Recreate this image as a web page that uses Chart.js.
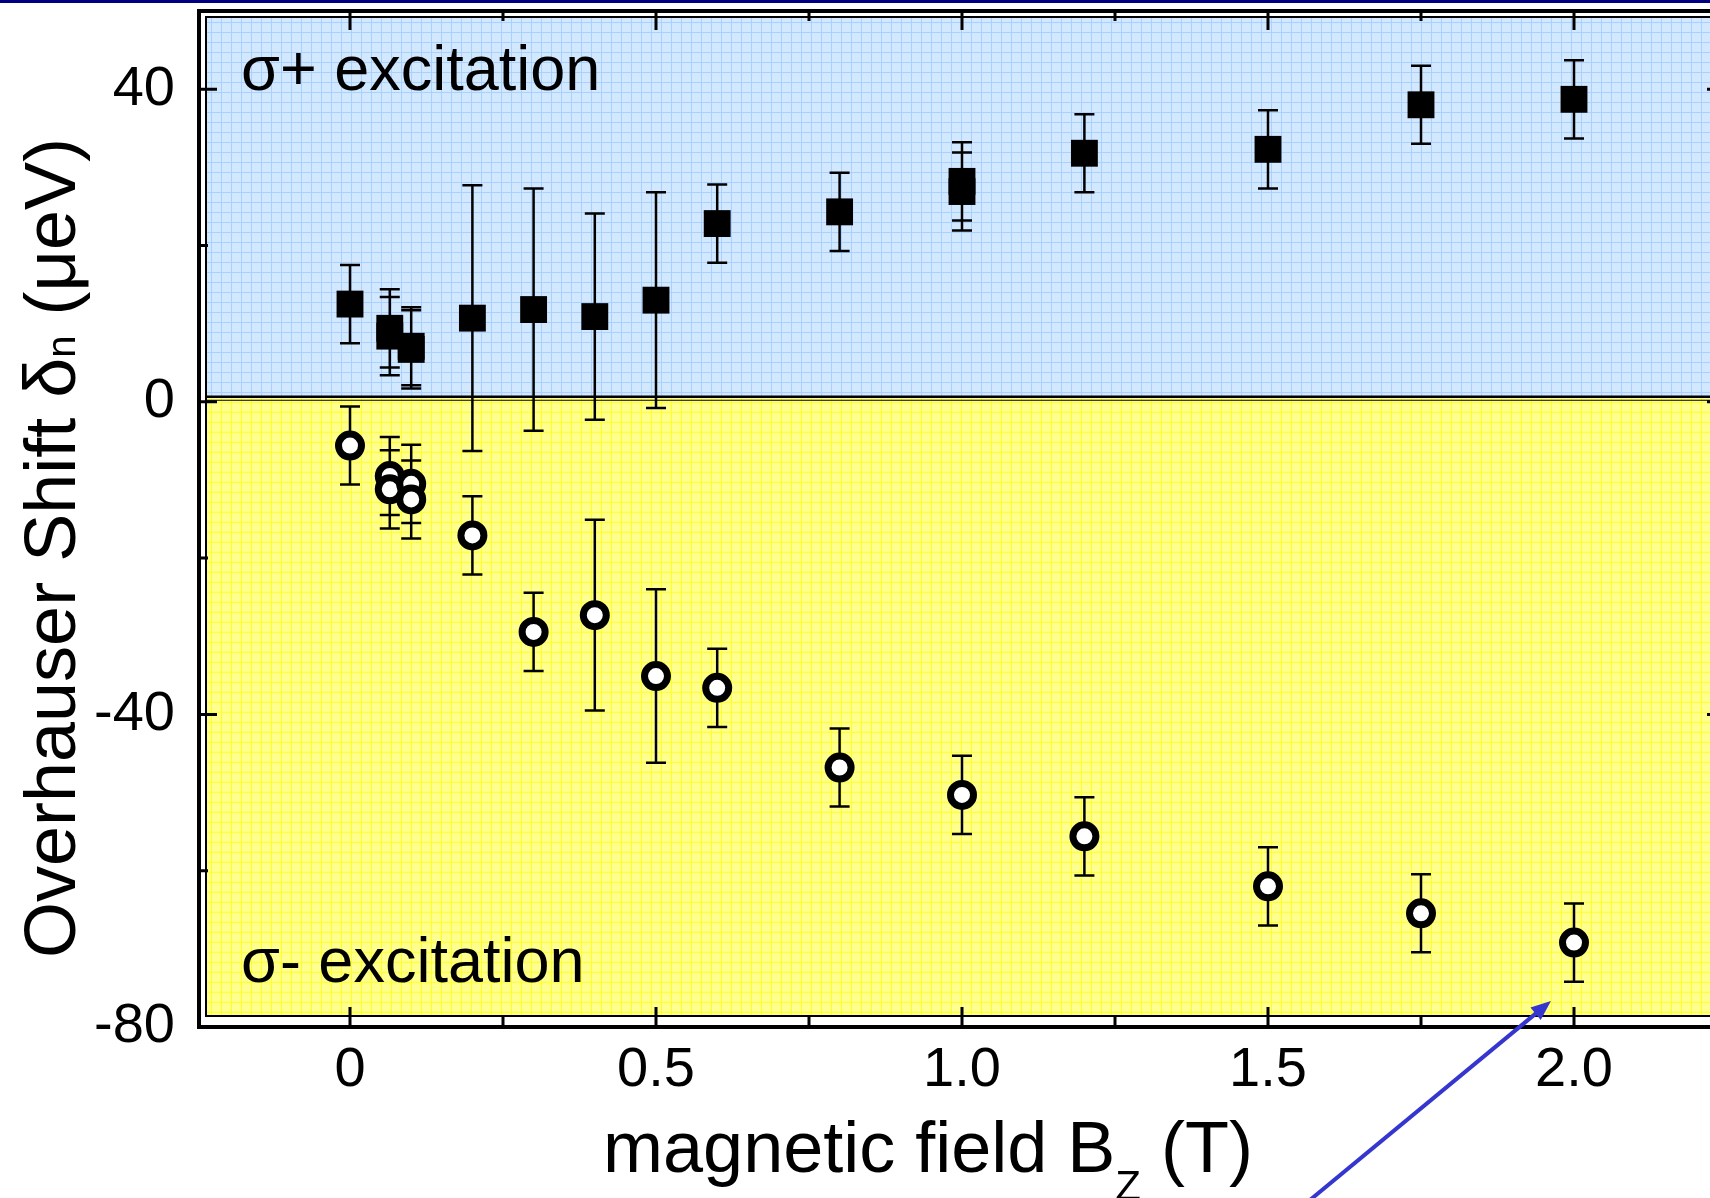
<!DOCTYPE html>
<html>
<head>
<meta charset="utf-8">
<script src="https://cdn.jsdelivr.net/npm/chart.js@4.4.0/dist/chart.umd.min.js"></script>
<style>
  html, body { margin: 0; padding: 0; overflow: hidden; background: #fff; width: 1710px; height: 1198px; }
  #wrap { position: absolute; left: 0; top: -8px; width: 1760px; height: 1206px; }
</style>
</head>
<body>
<div id="wrap"><canvas id="myChart" width="1760" height="1206"></canvas></div>
<script>
// sigma+ excitation (filled squares)
const fieldPlus = [0, 0.065, 0.065, 0.1, 0.1, 0.2, 0.3, 0.4, 0.5, 0.6, 0.8, 1.0, 1.0, 1.2, 1.5, 1.75, 2.0];
const shiftPlus = [12.5, 9.4, 8.4, 7.1, 6.7, 10.7, 11.8, 10.9, 13.0, 22.8, 24.3, 28.2, 26.9, 31.8, 32.3, 38.0, 38.7];
const errPlus = [5, 5, 5, 5, 5, 17, 15.5, 13.2, 13.8, 5, 5, 5, 5, 5, 5, 5, 5];

// sigma- excitation (open circles)
const fieldMinus = [0, 0.065, 0.065, 0.1, 0.1, 0.2, 0.3, 0.4, 0.5, 0.6, 0.8, 1.0, 1.2, 1.5, 1.75, 2.0];
const shiftMinus = [-5.6, -9.5, -11.2, -10.5, -12.5, -17.1, -29.45, -27.3, -35.1, -36.6, -46.8, -50.3, -55.6, -62.0, -65.45, -69.2];
const errMinus = [5, 5, 5, 5, 5, 5, 5, 12.2, 11.1, 5, 5, 5, 5, 5, 5, 5];

const xTicks = [0, 0.5, 1.0, 1.5, 2.0];
const xTickLabels = ["0", "0.5", "1.0", "1.5", "2.0"];
const xMinor = [0.25, 0.75, 1.25, 1.75];
const yTicks = [-80, -40, 0, 40];
const yTickLabels = ["-80", "-40", "0", "40"];
const yMinor = [-60, -20, 20];

const FONT = "'Liberation Sans', Arial, sans-serif";
const OFF = 8; // canvas sits 8px above the page top

function toPoints(xs, ys) {
  return xs.map((x, i) => ({ x: x, y: ys[i] }));
}

function gridFill(ctx, x0, y0, x1, y1, bg, line) {
  ctx.fillStyle = bg;
  ctx.fillRect(x0, y0, x1 - x0, y1 - y0);
  ctx.strokeStyle = line;
  ctx.lineWidth = 1;
  ctx.beginPath();
  for (let x = x0 + 5.5; x < x1; x += 10) {
    ctx.moveTo(x, y0);
    ctx.lineTo(x, y1);
  }
  for (let y = y0 + 5.5; y < y1; y += 10) {
    ctx.moveTo(x0, y);
    ctx.lineTo(x1, y);
  }
  ctx.stroke();
}

function drawParts(ctx, parts, cx, baseY) {
  let total = 0;
  parts.forEach(p => {
    ctx.font = p.s + "px " + FONT;
    p.w = ctx.measureText(p.t).width;
    total += p.w;
  });
  let x = cx - total / 2;
  parts.forEach(p => {
    ctx.font = p.s + "px " + FONT;
    ctx.fillText(p.t, x, baseY + p.dy);
    x += p.w;
  });
}

const framePlugin = {
  id: "frame",
  beforeDraw(chart) {
    const ctx = chart.ctx;
    const a = chart.chartArea;
    const xs = chart.scales.x, ys = chart.scales.y;
    ctx.save();
    ctx.fillStyle = "#fff";
    ctx.fillRect(0, 0, chart.width, chart.height);
    // navy strip on top
    ctx.fillStyle = "#000080";
    ctx.fillRect(0, 0, chart.width, OFF + 3);

    const L = a.left + 9, T = a.top + 6, R = a.right - 9, B = a.bottom - 11;
    const split = ys.getPixelForValue(0) - 5;
    gridFill(ctx, L, T, R, split, "#d2e8ff", "#a9d0ff");
    gridFill(ctx, L, split, R, B, "#ffff90", "#ffff20");

    ctx.strokeStyle = "#000";
    // band boundary
    ctx.lineWidth = 2.5;
    ctx.beginPath();
    ctx.moveTo(L, split); ctx.lineTo(R, split);
    ctx.stroke();
    ctx.lineWidth = 1;
    ctx.beginPath();
    ctx.moveTo(L, split + 3.5); ctx.lineTo(R, split + 3.5);
    ctx.stroke();

    // inner frame
    ctx.lineWidth = 2;
    ctx.strokeRect(L, T, R - L, B - T);
    // outer axes
    ctx.lineWidth = 4;
    ctx.strokeRect(a.left + 2, a.top, a.right - a.left - 2, a.bottom - a.top);

    // inward ticks
    ctx.lineWidth = 3;
    ctx.beginPath();
    xTicks.forEach(v => {
      const p = xs.getPixelForValue(v);
      ctx.moveTo(p, a.bottom); ctx.lineTo(p, a.bottom - 20);
      ctx.moveTo(p, a.top); ctx.lineTo(p, a.top + 19);
    });
    xMinor.forEach(v => {
      const p = xs.getPixelForValue(v);
      ctx.moveTo(p, a.bottom); ctx.lineTo(p, a.bottom - 11);
      ctx.moveTo(p, a.top); ctx.lineTo(p, a.top + 10);
    });
    yTicks.forEach(v => {
      const p = ys.getPixelForValue(v);
      ctx.moveTo(a.left, p); ctx.lineTo(a.left + 20, p);
      ctx.moveTo(a.right, p); ctx.lineTo(a.right - 20, p);
    });
    yMinor.forEach(v => {
      const p = ys.getPixelForValue(v);
      ctx.moveTo(a.left, p); ctx.lineTo(a.left + 11, p);
      ctx.moveTo(a.right, p); ctx.lineTo(a.right - 11, p);
    });
    ctx.stroke();
    ctx.restore();
  },
  beforeDatasetsDraw(chart) {
    const ctx = chart.ctx;
    const xs = chart.scales.x, ys = chart.scales.y;
    const sets = [[fieldPlus, shiftPlus, errPlus], [fieldMinus, shiftMinus, errMinus]];
    ctx.save();
    ctx.strokeStyle = "#000";
    ctx.lineWidth = 2.5;
    ctx.beginPath();
    sets.forEach(([fx, sy, se]) => {
      fx.forEach((x, i) => {
        const px = xs.getPixelForValue(x);
        const top = ys.getPixelForValue(sy[i] + se[i]);
        const bot = ys.getPixelForValue(sy[i] - se[i]);
        ctx.moveTo(px, top); ctx.lineTo(px, bot);
        ctx.moveTo(px - 10, top); ctx.lineTo(px + 10, top);
        ctx.moveTo(px - 10, bot); ctx.lineTo(px + 10, bot);
      });
    });
    ctx.stroke();
    ctx.restore();
  },
  afterDraw(chart) {
    const ctx = chart.ctx;
    const a = chart.chartArea;
    ctx.save();
    ctx.fillStyle = "#000";
    ctx.textBaseline = "alphabetic";
    ctx.textAlign = "left";

    // band labels
    ctx.font = "63px " + FONT;
    ctx.fillText("\u03C3+ excitation", a.left + 44, a.top + 79);
    ctx.fillText("\u03C3- excitation", a.left + 44, a.bottom - 45);

    // x title with subscript
    const partsX = [
      { t: "magnetic field B", s: 72, dy: 0 },
      { t: "Z", s: 42, dy: 28 },
      { t: " (T)", s: 72, dy: 0 }
    ];
    drawParts(ctx, partsX, 928, 1172 + OFF);

    // y title, rotated
    ctx.translate(75, 548 + OFF);
    ctx.rotate(-Math.PI / 2);
    const partsY = [
      { t: "Overhauser Shift \u03B4", s: 72, dy: 0 },
      { t: "n", s: 40, dy: 0 },
      { t: " (\u03BCeV)", s: 72, dy: 0 }
    ];
    drawParts(ctx, partsY, 0, 0);
    ctx.restore();

    // blue arrow
    ctx.save();
    const x0 = 1310, y0 = 1200 + OFF, x1 = 1551, y1 = 1001 + OFF;
    const ang = Math.atan2(y1 - y0, x1 - x0);
    ctx.strokeStyle = "#3535cf";
    ctx.fillStyle = "#3535cf";
    ctx.lineWidth = 4;
    ctx.beginPath();
    ctx.moveTo(x0, y0);
    ctx.lineTo(x1 - 14 * Math.cos(ang), y1 - 14 * Math.sin(ang));
    ctx.stroke();
    ctx.beginPath();
    ctx.moveTo(x1, y1);
    ctx.lineTo(x1 - 20 * Math.cos(ang) + 8 * Math.sin(ang), y1 - 20 * Math.sin(ang) - 8 * Math.cos(ang));
    ctx.lineTo(x1 - 20 * Math.cos(ang) - 8 * Math.sin(ang), y1 - 20 * Math.sin(ang) + 8 * Math.cos(ang));
    ctx.closePath();
    ctx.fill();
    ctx.restore();
  }
};

const chart1 = document.getElementById("myChart");
new Chart(chart1, {
  type: "scatter",
  data: {
    datasets: [
      {
        label: "\u03C3+ excitation",
        data: toPoints(fieldPlus, shiftPlus),
        pointStyle: "rect",
        pointRadius: 19,
        backgroundColor: "#000",
        borderColor: "#000",
        borderWidth: 0,
      },
      {
        label: "\u03C3- excitation",
        data: toPoints(fieldMinus, shiftMinus),
        pointStyle: "circle",
        pointRadius: 11.5,
        backgroundColor: "#fff",
        borderColor: "#000",
        borderWidth: 7,
      },
    ],
  },
  options: {
    responsive: false,
    animation: false,
    layout: { padding: { top: 11 + OFF, right: 33, left: 0, bottom: 0 } },
    plugins: {
      legend: { display: false },
      tooltip: { enabled: false },
    },
    scales: {
      x: {
        type: "linear",
        min: -0.25,
        max: 2.25,
        afterBuildTicks: (s) => { s.ticks = xTicks.map(v => ({ value: v })); },
        afterFit: (s) => {
          s.height = 171;
          s.paddingLeft = 0;
          s.paddingRight = 0;
        },
        grid: { display: false, drawTicks: false },
        border: { display: false },
        ticks: {
          autoSkip: false,
          maxRotation: 0,
          padding: 10,
          color: "#000",
          font: { family: FONT, size: 56 },
          callback: function (value, index) {
            return xTickLabels[index];
          },
        },
      },
      y: {
        type: "linear",
        min: -80,
        max: 50,
        afterBuildTicks: (s) => { s.ticks = yTicks.map(v => ({ value: v })); },
        afterFit: (s) => {
          s.width = 197;
          s.paddingTop = 0;
          s.paddingBottom = 0;
        },
        grid: { display: false, drawTicks: false },
        border: { display: false },
        ticks: {
          autoSkip: false,
          padding: 22,
          color: "#000",
          font: { family: FONT, size: 56 },
          callback: function (value, index) {
            return yTickLabels[index];
          },
        },
      },
    },
  },
  plugins: [framePlugin],
});
</script>
</body>
</html>
